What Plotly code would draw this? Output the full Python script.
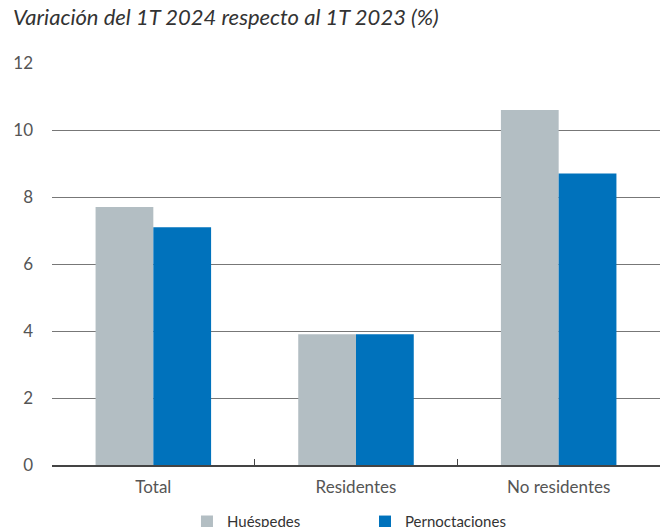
import plotly.graph_objects as go

# ── Data ────────────────────────────────────────────────────────────────────
categories = ["Total", "Residentes", "No residentes"]
huespedes = [7.7, 3.9, 10.6]
pernoctaciones = [7.1, 3.9, 8.7]

GRAY = "#B3BEC3"
BLUE = "#0072BC"
INK = "#333333"
MUTED = "#555555"
FONT = "Lato, 'Open Sans', sans-serif"

fig = go.Figure()
fig.add_bar(x=categories, y=huespedes, name="Huéspedes", marker_color=GRAY,
            marker_line_width=0)
fig.add_bar(x=categories, y=pernoctaciones, name="Pernoctaciones", marker_color=BLUE,
            marker_line_width=0)

# page has an 8px body margin, so the margins below are shifted to compensate
fig.update_layout(
    width=672, height=527,
    barmode="group", bargap=0.43, bargroupgap=0,
    paper_bgcolor="white", plot_bgcolor="white",
    font=dict(family=FONT, color=MUTED, size=15),
    margin=dict(l=44, r=20, t=54, b=70, autoexpand=False),
    showlegend=True,
    legend=dict(
        orientation="h", x=0.222, xanchor="left", y=-0.1, yanchor="top",
        entrywidth=133, entrywidthmode="pixels",
        font=dict(size=15, color=INK), itemsizing="constant",
    ),
    xaxis=dict(
        showline=True, linecolor="#444444", linewidth=1.5,
        ticks="inside", tickson="boundaries", ticklen=6, tickcolor="#444444",
        tickfont=dict(size=17, color=MUTED), showgrid=False,
        ticklabelstandoff=6,
    ),
    yaxis=dict(
        range=[0, 12.03], tickvals=[0, 2, 4, 6, 8, 10, 12],
        showgrid=True, gridcolor="#777777", gridwidth=1,
        zeroline=False, showline=False, ticks="", ticklabelstandoff=18,
        tickfont=dict(size=17, color=MUTED),
    ),
)

# Title partially cut at the top of the frame, as in the source
fig.add_annotation(
    text="<b><i>Llegada de huéspedes y pernoctaciones</i></b>",
    xref="paper", yref="paper", x=-0.062, y=1.125, xanchor="left", yanchor="bottom",
    showarrow=False, font=dict(size=26, color=INK, family=FONT),
)
fig.add_annotation(
    text="<i>Variación del 1T 2024 respecto al 1T 2023 (%)</i>",
    xref="paper", yref="paper", x=-0.068, y=1.075, xanchor="left", yanchor="bottom",
    showarrow=False, font=dict(size=22, color=INK, family=FONT),
)

fig.write_html("out.html")
